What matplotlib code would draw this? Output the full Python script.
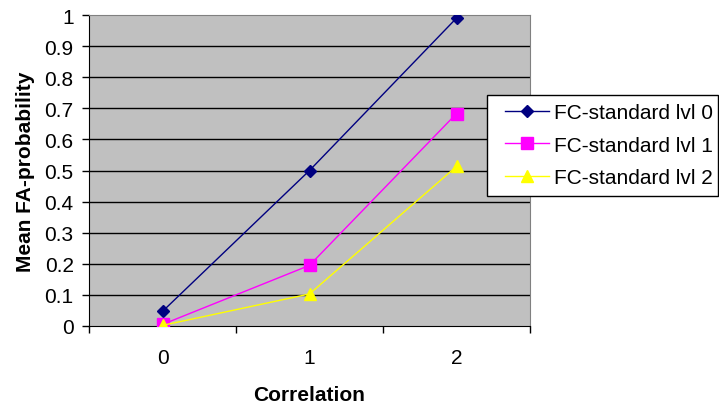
import matplotlib
matplotlib.use("Agg")
import matplotlib.pyplot as plt
from matplotlib.patches import Rectangle

plt.rcParams['font.family'] = ['Liberation Sans', 'DejaVu Sans']

categories = ["0", "1", "2"]
lvl0 = [0.047, 0.50, 0.99]
lvl1 = [0.005, 0.195, 0.683]
lvl2 = [0.002, 0.103, 0.513]
series_names = ["FC-standard lvl 0", "FC-standard lvl 1", "FC-standard lvl 2"]
yticks = [0, 0.1, 0.2, 0.3, 0.4, 0.5, 0.6, 0.7, 0.8, 0.9, 1]
ytick_labels = ["0", "0.1", "0.2", "0.3", "0.4", "0.5", "0.6", "0.7", "0.8", "0.9", "1"]

FS = 15
W, H = 719, 406

fig = plt.figure(figsize=(7.19, 4.06), dpi=100)
ax = fig.add_axes([89/W, 1-327/H, (530-89)/W, (327-16)/H])
ax.set_facecolor('#C0C0C0')

x = list(range(len(categories)))
ax.plot(x, lvl0, color='#000080', marker='D', markersize=6.5, lw=1, label=series_names[0], zorder=3)
ax.plot(x, lvl1, color='#FF00FF', marker='s', markersize=8, lw=1, label=series_names[1], zorder=3)
ax.plot(x, lvl2, color='#FFFF00', marker='^', markersize=9, lw=1, label=series_names[2], zorder=3)

ax.set_xlim(-0.5, 2.5)
ax.set_ylim(0, 1)
ax.set_yticks(yticks)
ax.set_yticklabels(ytick_labels, fontsize=FS)
ax.set_xticks(x)
ax.set_xticklabels(categories, fontsize=FS)
ax.set_xticks([-0.5, 0.5, 1.5, 2.5], minor=True)
ax.tick_params(axis='x', which='major', length=0, pad=16)
ax.tick_params(axis='x', which='minor', length=5, width=1, color='black')
ax.tick_params(axis='y', length=5, width=1, color='black', pad=6)

for yv in yticks[1:-1]:
    ax.axhline(yv, color='black', lw=1, zorder=1)

ax.spines['left'].set_color('black')
ax.spines['bottom'].set_color('black')
ax.spines['top'].set_color('#808080')
ax.spines['right'].set_color('#808080')

ax.set_xlabel("Correlation", fontsize=FS, fontweight='bold', labelpad=13)
ax.set_ylabel("Mean FA-probability", fontsize=FS, fontweight='bold', labelpad=7)

# legend box
box = Rectangle((487/W, 1-197/H), (718-487)/W, (197-96)/H, transform=fig.transFigure,
                facecolor='white', edgecolor='black', lw=1, zorder=5)
fig.patches.append(box)

leg = fig.legend(*ax.get_legend_handles_labels(), loc='upper left',
                 bbox_to_anchor=(505/W, 1-104/H), bbox_transform=fig.transFigure,
                 fontsize=FS, frameon=False, borderpad=0, borderaxespad=0,
                 handlelength=2.1, handletextpad=0.25, labelspacing=0.65)
leg.set_zorder(6)

fig.savefig("out.png", dpi=100)
